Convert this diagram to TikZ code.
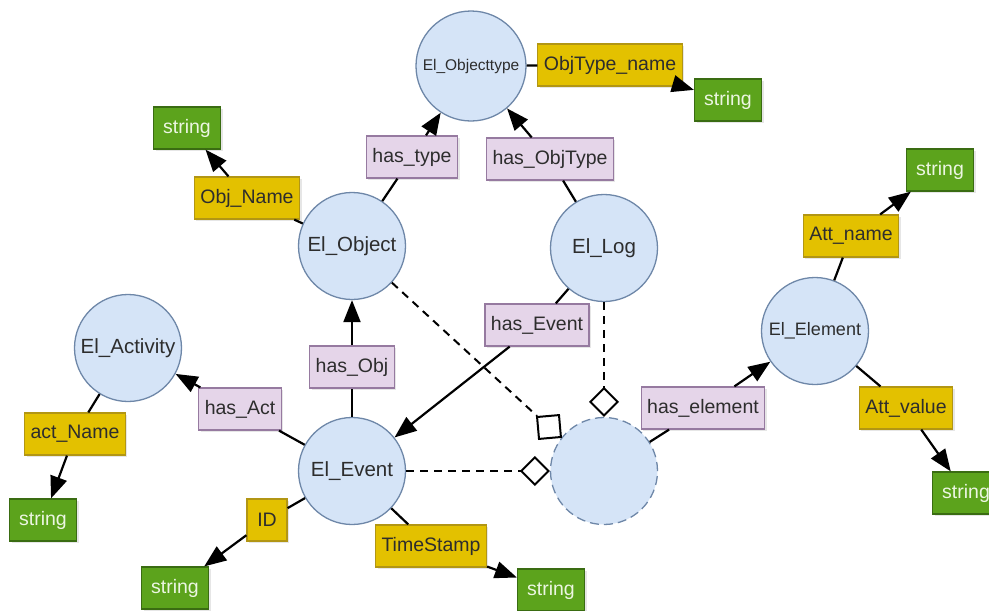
\documentclass[tikz,border=0pt]{standalone}
\usepackage{fontspec}
\setmainfont{Liberation Sans}
\usetikzlibrary{arrows.meta,shadows}

\definecolor{clsfill}{RGB}{213,228,247}
\definecolor{clsline}{RGB}{110,135,168}
\definecolor{relfill}{RGB}{229,213,233}
\definecolor{relline}{RGB}{150,122,160}
\definecolor{attfill}{RGB}{227,193,0}
\definecolor{attline}{RGB}{178,150,20}
\definecolor{litfill}{RGB}{92,163,28}
\definecolor{litline}{RGB}{58,108,18}
\definecolor{littext}{RGB}{236,246,226}
\definecolor{txtgray}{RGB}{45,45,45}

\begin{document}
\begin{tikzpicture}[x=1pt, y=-1pt,
    labelfont/.style={font=\fontsize{19.5}{21}\selectfont},
    cls/.style={circle, draw=clsline, fill=clsfill, line width=1.3pt,
      minimum size=107pt, inner sep=0pt, text=txtgray,
      font=\fontsize{20.5}{22}\selectfont},
    box/.style={rectangle, line width=1.2pt, minimum height=42pt,
      inner xsep=6pt, text=txtgray, labelfont,
      drop shadow={shadow xshift=2pt, shadow yshift=-2pt, opacity=0.2}},
    rel/.style={box, draw=relline, fill=relfill},
    att/.style={box, draw=attline, fill=attfill},
    lit/.style={box, draw=litline, fill=litfill, text=littext, minimum width=67pt},
    arr/.style={-{Triangle[length=22pt,width=17pt]}},
    dashlink/.style={line width=2pt, dash pattern=on 8pt off 6pt}
  ]
  \useasboundingbox (0,0) rectangle (989,611);
  \clip (0,0) rectangle (989,611);

  % classes
  \node[cls, font=\fontsize{15.5}{17}\selectfont, minimum size=110pt] (otype) at (471,66) {El\_Objecttype};
  \node[cls] (obj)  at (352,246) {El\_Object};
  \node[cls] (log)  at (604,248) {El\_Log};
  \node[cls] (act)  at (128,348) {El\_Activity};
  \node[cls] (evt)  at (352,471) {El\_Event};
  \node[cls, dashed, dash pattern=on 9pt off 5pt] (anon) at (604,471) {};
  \node[cls, font=\fontsize{18}{20}\selectfont] (elem) at (815,331) {El\_Element};

  % relations
  \node[rel] (hastype)  at (412,157) {has\_type};
  \node[rel] (hasotype) at (550,159) {has\_ObjType};
  \node[rel] (hasobj)   at (352,367) {has\_Obj};
  \node[rel] (hasact)   at (240,409) {has\_Act};
  \node[rel] (hasevt)   at (537,325) {has\_Event};
  \node[rel] (haselem)  at (703,408) {has\_element};

  % attributes
  \node[att] (otname)  at (610,65)  {ObjType\_name};
  \node[att] (objname) at (247,198) {Obj\_Name};
  \node[att] (actname) at (75,434)  {act\_Name};
  \node[att, minimum width=40pt] (id) at (267,520) {ID};
  \node[att] (ts)      at (431,546) {TimeStamp};
  \node[att] (attname) at (851,236) {Att\_name};
  \node[att] (attval)  at (906,408) {Att\_value};

  % literals
  \node[lit] (str1) at (728,100) {string};
  \node[lit] (str2) at (187,128) {string};
  \node[lit] (str3) at (43,520)  {string};
  \node[lit] (str4) at (175,588) {string};
  \node[lit] (str5) at (551,590) {string};
  \node[lit] (str6) at (940,170) {string};
  \node[lit] (str7) at (966,493) {string};

  \begin{scope}[line width=2.2pt]
    \foreach \src/\lbl/\tgt in {obj/hastype/otype, log/hasotype/otype,
        evt/hasobj/obj, evt/hasact/act, log/hasevt/evt, anon/haselem/elem,
        otype/otname/str1, obj/objname/str2, act/actname/str3,
        evt/id/str4, evt/ts/str5, elem/attname/str6, elem/attval/str7}{
      \draw (\src) -- (\lbl);
      \draw[arr] (\lbl) -- (\tgt);
    }
  \end{scope}

  % dashed links to the anonymous class
  \node[draw, fill=white, line width=2pt, minimum size=22pt, inner sep=0pt, rotate=5] (sq) at (549,427) {};
  \draw[dashlink] (obj) -- (sq);
  \draw[dashlink, -{Diamond[open,length=30pt,width=30pt]}] (evt) -- (anon);
  \draw[dashlink, -{Diamond[open,length=30pt,width=30pt]}] (log) -- (anon);
\end{tikzpicture}
\end{document}
